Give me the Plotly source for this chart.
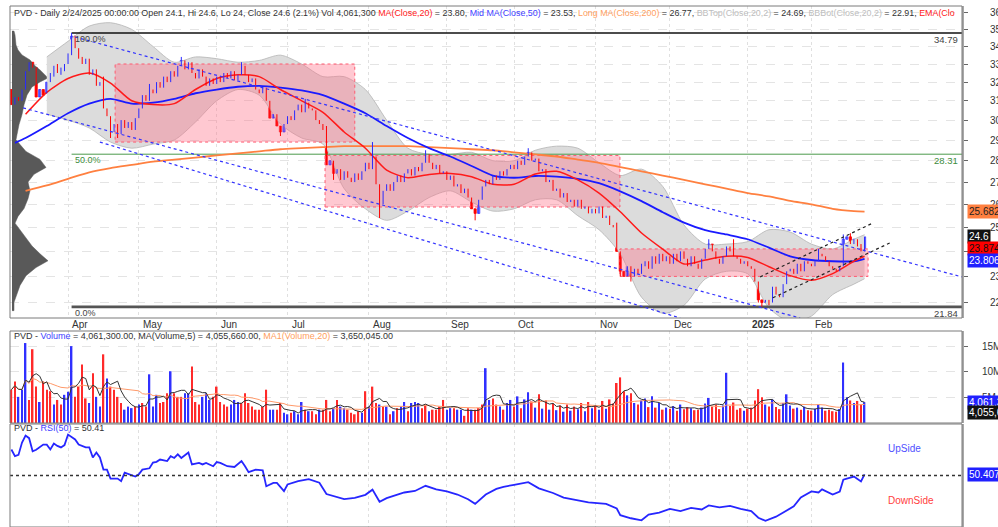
import math
import pandas as pd
import plotly.graph_objects as go

# ---------------- data ----------------
month_names = ["Apr", "May", "Jun", "Jul", "Aug", "Sep", "Oct", "Nov", "Dec", "2025", "Feb"]
month_start_idx = [16, 36, 58, 78, 101, 123, 142, 165, 186, 208, 226]

opens = [
    31.6, 30.8, 31.2, 31.0, 31.6, 32.6, 33.1, 32.8, 31.2, 31.6,
    31.4, 32.0, 32.3, 33.0, 32.4, 32.6, 33.0, 33.5, 34.6, 33.9,
    33.4, 33.0, 33.3, 32.4, 32.7, 31.8, 32.0, 30.6, 30.2, 29.4,
    29.8, 29.3, 30.0, 29.6, 29.9, 29.5, 30.1, 30.6, 31.3, 31.0,
    31.6, 31.4, 32.0, 31.7, 32.3, 32.0, 32.6, 32.3, 32.9, 33.2,
    32.7, 33.1, 32.5, 32.2, 32.7, 32.3, 31.8, 32.2, 31.9, 32.3,
    32.0, 32.5, 32.2, 32.6, 32.1, 32.4, 32.9, 32.4, 32.0, 32.2,
    31.6, 31.4, 31.7, 31.0, 30.1, 30.3, 29.7, 29.4, 29.8, 30.2,
    30.0, 30.5, 30.8, 30.4, 30.9, 30.6, 30.5, 30.0, 29.8, 29.5,
    27.8, 28.0, 27.4, 27.6, 27.1, 27.5, 27.2, 27.0, 27.4, 27.1,
    27.5, 27.9, 27.6, 28.2, 26.9, 26.0, 26.6, 26.9, 26.6, 27.0,
    27.3, 27.0, 27.4, 27.6, 27.3, 27.7, 27.5, 27.9, 28.3, 27.9,
    27.6, 27.8, 27.4, 27.5, 27.1, 27.3, 26.8, 26.9, 26.5, 26.7,
    26.3, 25.8, 25.6, 26.2, 26.8, 27.1, 26.9, 27.3, 27.1, 27.5,
    27.3, 27.6, 27.8, 27.6, 28.0, 27.8, 28.2, 28.4, 28.0, 28.1,
    27.5, 27.6, 27.0, 27.1, 26.6, 26.7, 26.3, 26.5, 26.1, 26.2,
    25.9, 26.2, 25.8, 25.9, 25.6, 25.8, 25.6, 25.9, 25.4, 25.5,
    25.1, 25.0, 24.0, 23.2, 23.0, 23.4, 23.0, 23.3, 23.1, 23.4,
    23.6, 23.3, 23.8, 23.5, 23.9, 23.6, 23.8, 23.5, 23.9, 23.6,
    24.0, 23.7, 23.4, 23.8, 23.5, 23.3, 23.7, 24.1, 24.3, 24.0,
    23.7, 23.5, 23.8, 24.2, 24.0, 23.8, 23.7, 23.5, 23.6, 23.4,
    23.3, 22.8, 22.1, 22.0, 22.1, 22.0, 22.6, 22.3, 22.2, 22.7,
    23.2, 23.3, 23.1, 23.5, 23.2, 23.6, 23.5, 23.4, 23.6, 23.9,
    23.8, 23.6, 23.4, 23.3, 23.2, 23.4, 24.5, 24.6, 24.3, 24.5,
    24.3, 24.1]

closes = [
    30.8, 31.2, 31.0, 31.6, 32.6, 33.1, 32.8, 31.2, 31.6, 31.3,
    32.0, 32.5, 32.9, 32.5, 32.8, 33.0, 33.6, 34.6, 33.9, 33.3,
    33.0, 33.3, 32.4, 32.7, 31.8, 32.0, 30.6, 30.2, 29.4, 29.8,
    29.3, 30.0, 29.6, 29.9, 29.5, 30.1, 30.6, 31.3, 31.0, 31.6,
    31.4, 32.0, 31.7, 32.3, 32.0, 32.6, 32.3, 32.9, 33.2, 32.7,
    33.1, 32.5, 32.2, 32.7, 32.3, 31.8, 32.2, 31.9, 32.3, 32.0,
    32.5, 32.2, 32.6, 32.1, 32.4, 32.9, 32.4, 32.0, 32.2, 31.6,
    31.4, 31.7, 31.0, 30.1, 30.3, 29.7, 29.4, 29.8, 30.2, 30.0,
    30.5, 30.8, 30.4, 30.9, 30.6, 30.5, 30.0, 29.8, 29.5, 27.8,
    28.0, 27.4, 27.6, 27.1, 27.5, 27.2, 27.0, 27.4, 27.1, 27.5,
    27.9, 27.6, 28.2, 26.9, 26.0, 26.6, 26.9, 26.6, 27.0, 27.3,
    27.0, 27.4, 27.6, 27.3, 27.7, 27.5, 27.9, 28.3, 27.9, 27.6,
    27.8, 27.4, 27.5, 27.1, 27.3, 26.8, 26.9, 26.5, 26.7, 26.3,
    25.8, 25.6, 26.2, 26.8, 27.1, 26.9, 27.3, 27.1, 27.5, 27.3,
    27.6, 27.8, 27.6, 28.0, 27.8, 28.2, 28.4, 28.0, 28.1, 27.5,
    27.6, 27.0, 27.1, 26.6, 26.7, 26.3, 26.5, 26.1, 26.2, 25.9,
    26.2, 25.8, 25.9, 25.6, 25.8, 25.6, 25.9, 25.4, 25.5, 25.1,
    25.0, 24.0, 23.2, 23.0, 23.4, 23.0, 23.3, 23.1, 23.5, 23.6,
    23.3, 23.8, 23.5, 23.9, 23.6, 23.8, 23.5, 23.9, 23.6, 24.0,
    23.7, 23.4, 23.8, 23.5, 23.3, 23.7, 24.1, 24.3, 24.0, 23.7,
    23.5, 23.8, 24.2, 24.0, 23.8, 23.7, 23.5, 23.6, 23.4, 23.3,
    22.8, 22.1, 22.0, 22.1, 22.0, 22.6, 22.3, 22.2, 22.7, 23.2,
    23.3, 23.1, 23.5, 23.2, 23.6, 23.5, 23.4, 23.6, 23.9, 23.8,
    23.6, 23.4, 23.3, 23.2, 23.4, 24.5, 24.6, 24.3, 24.5, 24.2,
    24.1, 24.6]

wick_highs = [(17, 34.79), (26, 32.3), (39, 31.9), (48, 33.4), (65, 33.1), (83, 31.1),
              (89, 29.7), (102, 28.9), (117, 28.5), (146, 28.6), (171, 25.2), (197, 24.5),
              (204, 24.5), (228, 24.1), (235, 24.7), (237, 24.75), (241, 24.6)]
wick_lows = [(28, 29.1), (30, 29.1), (76, 29.2), (91, 27.1), (104, 25.4), (131, 25.3),
             (172, 23.0), (175, 22.8), (211, 22.0), (212, 21.84), (214, 21.9), (240, 24.0), (241, 24.0)]

volume_m = [
    6.5, 8.1, 5.1, 6.5, 15.6, 4.5, 14.4, 7.1, 4.1, 8.1,
    6.5, 6.2, 3.6, 4.5, 3.6, 5.5, 6.1, 15.0, 5.1, 7.1,
    11.4, 4.8, 3.9, 9.7, 5.1, 3.2, 13.4, 8.7, 7.1, 6.5,
    5.1, 3.9, 2.6, 3.2, 2.9, 3.2, 3.6, 3.9, 3.2, 9.5,
    3.2, 5.5, 3.9, 4.1, 5.8, 10.1, 5.8, 5.1, 5.1, 5.8,
    5.8, 11.0, 4.1, 3.6, 5.1, 5.8, 4.5, 5.1, 7.1, 4.1,
    3.6, 3.2, 3.6, 4.5, 4.1, 3.9, 5.8, 3.9, 3.2, 2.6,
    2.6, 3.2, 6.5, 2.6, 2.6, 2.6, 3.9, 2.0, 1.7, 2.0,
    2.3, 1.7, 4.1, 2.6, 2.3, 2.3, 1.7, 2.6, 2.6, 4.5,
    2.3, 2.9, 4.5, 3.2, 2.9, 2.6, 2.0, 1.7, 2.3, 2.0,
    6.2, 3.2, 7.1, 3.9, 3.6, 3.2, 3.2, 1.7, 2.3, 2.9,
    3.2, 4.1, 2.3, 3.9, 4.1, 3.9, 2.9, 3.6, 2.3, 2.6,
    2.6, 3.2, 4.5, 2.6, 2.9, 2.9, 2.6, 2.6, 1.4, 2.9,
    2.6, 2.6, 2.9, 3.6, 10.7, 4.5, 4.8, 3.6, 3.2, 2.6,
    3.9, 4.5, 3.2, 5.2, 2.9, 4.6, 6.0, 4.2, 3.0, 5.6,
    2.8, 4.4, 2.6, 3.8, 2.5, 3.4, 2.2, 3.6, 2.4, 3.2,
    2.7, 3.9, 2.3, 4.1, 2.9, 3.4, 2.6, 4.3, 2.8, 4.6,
    3.8, 7.8, 8.9, 6.2, 5.4, 5.8, 3.9, 3.6, 4.4, 4.8,
    3.1, 5.2, 3.0, 3.9, 2.6, 3.0, 2.8, 3.3, 2.4, 3.6,
    2.7, 3.1, 2.9, 2.5, 2.6, 3.0, 3.8, 4.9, 3.2, 3.6,
    2.7, 3.4, 9.8, 3.3, 4.0, 2.6, 2.9, 2.4, 2.8, 3.0,
    4.4, 6.6, 5.0, 3.6, 3.2, 4.6, 3.1, 2.7, 3.9, 5.6,
    3.4, 2.8, 3.0, 2.6, 3.2, 2.5, 2.4, 2.8, 3.6, 3.0,
    2.4, 2.6, 2.3, 2.2, 2.7, 11.8, 5.0, 4.4, 3.9, 4.3,
    3.6, 4.0613]
volume_dir = ("RRBBBRRRBR" "RRBRRBBBRR" "RRBRBBRBRR" "RRBBBRBRRB" "BBRRRBRRRB"
              "BRRRBBBRRR" "RRBBBRRRRR" "RRRBBRRBBR" "BBBRBRRBRR" "RBRBBRRRRB"
              "RBRRBRBRBR" "BBRBBBRRBR" "RRRBBRBBRR" "BRRRBBRRBR" "BBRBRBBRBR"
              "BRBRBRBRBR" "BRBRBRBRBR" "RRRRBRBRBB" "RBRBRBRBRB" "RRBRRBBBRR"
              "RBBRRRRBRR" "RRRBRBRRBB" "BRBRBRRBBB" "RRRRBBBRBR" "RB")

sample_idx = [1, 4, 10, 16, 22, 28, 34, 40, 46, 52, 58, 64, 70, 76, 82, 88, 94, 100, 106, 112, 118,
              124, 130, 136, 142, 148, 154, 160, 166, 172, 178, 184, 190, 196, 202, 208, 214, 220,
              226, 232, 238, 241]
ma20 = [None, 30.3, 31.45, 32.2, 32.5, 31.95, 31.0, 30.8, 30.85, 31.6, 32.2, 32.4, 32.3, 31.6, 31.0,
        30.4, 29.4, 28.6, 27.55, 27.2, 27.35, 27.4, 27.25, 26.9, 26.9, 27.37, 27.5, 27.1, 26.5,
        25.67, 24.76, 24.09, 23.49, 23.65, 23.8, 23.75, 23.38, 23.03, 22.85, 23.11, 23.6, 23.8]
ma50 = [28.86, 29.1, 29.7, 30.35, 30.85, 31.1, 30.85, 30.9, 31.1, 31.4, 31.6, 31.75, 31.8, 31.7,
        31.55, 31.3, 30.85, 30.35, 29.7, 29.1, 28.6, 28.2, 27.75, 27.3, 27.2, 27.28, 27.25, 27.15,
        26.95, 26.58, 26.14, 25.65, 25.2, 24.88, 24.7, 24.5, 24.15, 23.8, 23.65, 23.6, 23.6, 23.7]
ma200 = [None, 26.6, 26.85, 27.15, 27.45, 27.65, 27.8, 27.95, 28.05, 28.15, 28.25, 28.35, 28.45,
         28.55, 28.6, 28.65, 28.7, 28.7, 28.7, 28.7, 28.65, 28.6, 28.55, 28.5, 28.4, 28.3, 28.2,
         28.05, 27.9, 27.7, 27.5, 27.3, 27.1, 26.9, 26.7, 26.5, 26.35, 26.15, 26.0, 25.8, 25.7, 25.68]
bb_top = [None, None, 33.4, 34.3, 35.2, 35.4, 35.0, 34.0, 33.1, 33.4, 33.3, 33.1, 33.2, 33.5, 33.0,
          32.3, 32.3, 31.6, 30.0, 28.6, 28.3, 28.3, 28.4, 28.0, 28.0, 28.5, 28.7, 28.6, 27.9, 27.3,
          27.6, 26.8, 25.1, 24.3, 24.3, 24.4, 24.9, 24.8, 24.3, 24.1, 24.5, 24.69]
bb_bot = [None, None, 30.3, 30.0, 29.6, 28.9, 28.6, 28.8, 29.0, 29.9, 31.0, 31.6, 31.3, 29.8, 29.1,
          28.8, 26.7, 25.8, 25.3, 25.7, 26.3, 26.6, 26.1, 25.7, 25.8, 26.2, 26.2, 25.5, 24.9, 23.9,
          22.2, 21.6, 21.9, 22.9, 23.2, 23.1, 21.8, 21.3, 21.5, 22.3, 22.7, 22.91]

rsi_points = [(0, 60.1), (1, 57.5), (2, 58.0), (3, 62.8), (4, 65.5), (5, 64.5), (6, 59.4), (7, 60.0),
              (9, 62.0), (10, 62.0), (11, 60.1), (12, 62.4), (13, 61.5), (14, 60.9), (15, 61.8),
              (16, 65.9), (18, 64.0), (19, 62.0), (21, 60.9), (22, 60.9), (23, 57.0), (24, 58.9),
              (25, 57.0), (26, 52.3), (27, 52.3), (28, 48.8), (30, 48.8), (31, 47.8), (32, 51.1),
              (34, 50.0), (35, 49.6), (36, 50.5), (37, 52.3), (39, 52.8), (40, 55.0), (41, 55.3),
              (42, 56.2), (44, 55.6), (45, 57.5), (46, 56.8), (47, 58.2), (48, 56.8), (50, 58.9),
              (51, 54.3), (53, 54.9), (54, 54.3), (55, 54.9), (57, 53.6), (58, 55.2), (59, 54.9),
              (61, 53.6), (63, 53.3), (65, 55.6), (66, 53.6), (67, 51.3), (69, 52.3), (71, 52.0),
              (72, 45.8), (74, 47.1), (75, 47.1), (77, 43.9), (78, 46.5), (81, 47.8), (84, 48.6),
              (87, 47.2), (89, 42.8), (91, 42.0), (94, 40.8), (97, 41.3), (100, 42.5), (102, 44.5),
              (104, 39.8), (106, 41.2), (108, 42.2), (111, 43.4), (114, 44.0), (117, 46.0),
              (120, 44.6), (123, 43.8), (126, 42.6), (129, 40.8), (131, 39.0), (134, 42.6),
              (137, 44.8), (139, 45.6), (142, 46.4), (146, 47.4), (149, 45.0), (153, 43.2),
              (156, 41.4), (160, 40.4), (163, 39.6), (168, 39.0), (171, 37.2), (172, 34.6),
              (175, 33.4), (178, 32.6), (180, 34.8), (183, 35.6), (186, 37.0), (189, 36.2),
              (192, 37.4), (195, 36.8), (197, 38.4), (200, 37.6), (203, 38.2), (206, 37.0),
              (209, 36.2), (211, 33.6), (213, 32.4), (216, 34.0), (219, 36.4), (221, 38.0),
              (223, 41.5), (226, 43.8), (228, 43.4), (229, 44.6), (232, 42.6), (234, 43.8),
              (235, 48.4), (238, 49.6), (240, 47.7), (241, 50.41)]

profile_price = [34.9, 34.67, 34.09, 33.80, 33.51, 33.23, 32.95, 32.67, 32.40, 32.23,
                 32.01, 31.74, 31.31, 30.79, 30.28, 29.77, 29.27, 29.02, 28.78, 28.44,
                 28.06, 27.68, 27.36, 27.0, 26.6, 26.25, 25.81, 25.47, 25.18, 24.88,
                 24.55, 24.22, 23.9, 23.62, 23.35, 23.03, 22.65, 22.27, 22.01, 21.7]
profile_vol = [2, 3, 4, 6, 10, 18, 22, 28, 33, 36, 28, 20, 15, 12, 10, 7, 5, 4, 8, 14,
               28, 34, 22, 16, 18, 16, 12, 6, 3, 8, 14, 20, 28, 36, 24, 14, 8, 4, 2, 2]

fib_levels = [34.79, 28.31, 21.84]
fib_pct = ["100.0%", "50.0%", "0.0%"]
fib_start_idx = 17

box_x0 = [29.3, 88.6, 171.9]
box_x1 = [97.0, 171.9, 242.0]
box_top = [33.0, 28.25, 24.1]
box_bot = [28.9, 25.88, 23.0]

channel_lines = [((18.0, 34.55), (268.5, 22.98)),
                 ((3.3, 30.63), (222.8, 21.43)),
                 ((25.0, 28.9), (188.9, 21.43))]
feb_lines = [((211.5, 22.98), (243.4, 25.19)),
             ((215.1, 22.18), (248.8, 24.39))]

price_ticks = list(range(22, 37))
vol_ticks = [5, 10, 15]

# ---------------- layout helpers ----------------
W, H = 998, 527
def py(p):
    return 1 - p / H
def pxx(p):
    return p / W

XL, XR = 10, 962
X_RANGE = [-0.395, 268.53]
PX_PER_BAR = 3.54
PRICE_RANGE = [math.log10(21.43), math.log10(36.42)]
UP_LINE, UP_FILL, DN = "#2a2aff", "#d4d4ff", "#ff0000"

n = len(closes)
idx = list(range(n))
highs = [max(o, c) for o, c in zip(opens, closes)]
lows = [min(o, c) for o, c in zip(opens, closes)]
for i, v in wick_highs:
    highs[i] = max(highs[i], v)
for i, v in wick_lows:
    lows[i] = min(lows[i], v)
is_up = [c >= o for o, c in zip(opens, closes)]

fig = go.Figure()

# volume profile
x_base = 0.17
prof_x = [x_base] + [x_base + v / PX_PER_BAR for v in profile_vol] + [x_base]
prof_y = [profile_price[0]] + profile_price + [profile_price[-1]]
fig.add_trace(go.Scatter(x=prof_x, y=prof_y, fill="toself", fillcolor="#595959",
                         mode="lines", line=dict(width=0.5, color="#595959"), hoverinfo="skip"))

# Bollinger band
bx = [s for s, t in zip(sample_idx, bb_top) if t is not None]
bt = [t for t in bb_top if t is not None]
bbm = [b for b in bb_bot if b is not None]
fig.add_trace(go.Scatter(x=bx, y=bbm, mode="lines",
                         line=dict(color="#b4b4b4", width=0.8, shape="spline", smoothing=0.8)))
fig.add_trace(go.Scatter(x=bx, y=bt, mode="lines", fill="tonexty", fillcolor="#dcdcdc",
                         line=dict(color="#b4b4b4", width=0.8, shape="spline", smoothing=0.8)))

# pink boxes
for x0, x1, t, b in zip(box_x0, box_x1, box_top, box_bot):
    fig.add_trace(go.Scatter(x=[x0, x1, x1, x0, x0], y=[b, b, t, t, b], mode="lines",
                             fill="toself", fillcolor="rgba(255,110,135,0.38)",
                             line=dict(color="#ff5a70", width=1, dash="dot")))

# fib lines
fib_styles = [("#111111", 1.6), ("#4c9a4c", 1.0), ("#555555", 2.6)]
for lvl, (col, wd) in zip(fib_levels, fib_styles):
    fig.add_trace(go.Scatter(x=[fib_start_idx, X_RANGE[1]], y=[lvl, lvl], mode="lines",
                             line=dict(color=col, width=wd)))

# moving averages
def line_tr(vals, color, width):
    xs = [s for s, v in zip(sample_idx, vals) if v is not None]
    ys = [v for v in vals if v is not None]
    return go.Scatter(x=xs, y=ys, mode="lines",
                      line=dict(color=color, width=width, shape="spline", smoothing=0.7))

fig.add_trace(line_tr(ma200, "#ff8040", 1.8))
fig.add_trace(line_tr(ma50, "#1a1aff", 1.8))
fig.add_trace(line_tr(ma20, "#ff1a1a", 1.5))

# candles: wicks then bodies
for up, col in [(True, UP_LINE), (False, DN)]:
    wx, wy = [], []
    for i in idx:
        if is_up[i] == up:
            wx += [i, i, None]
            wy += [lows[i], highs[i], None]
    fig.add_trace(go.Scatter(x=wx, y=wy, mode="lines", line=dict(color=col, width=1),
                             hoverinfo="skip"))
body_base = [min(o, c) for o, c in zip(opens, closes)]
body_len = [abs(c - o) for o, c in zip(opens, closes)]
fig.add_trace(go.Bar(x=idx, y=body_len, base=body_base, width=0.62,
                     marker=dict(color=[UP_FILL if u else DN for u in is_up],
                                 line=dict(color=[UP_LINE if u else DN for u in is_up], width=0.8)),
                     hoverinfo="skip"))

# channel lines
for (x0, y0), (x1, y1) in channel_lines:
    fig.add_trace(go.Scatter(x=[x0, x1], y=[y0, y1], mode="lines",
                             line=dict(color="#3333ff", width=1.2, dash="dot")))
for (x0, y0), (x1, y1) in feb_lines:
    fig.add_trace(go.Scatter(x=[x0, x1], y=[y0, y1], mode="lines",
                             line=dict(color="#222222", width=1.2, dash="dot")))

# volume
vcol = ["#3030ff" if d == "B" else "#ff2a2a" for d in volume_dir]
fig.add_trace(go.Bar(x=idx, y=volume_m, marker=dict(color=vcol, line=dict(width=0)),
                     width=0.45, xaxis="x2", yaxis="y2"))
vs = pd.Series(volume_m)
fig.add_trace(go.Scatter(x=idx, y=vs.rolling(20, min_periods=1).mean(), mode="lines",
                         line=dict(color="#ff9a6a", width=1), xaxis="x2", yaxis="y2"))
fig.add_trace(go.Scatter(x=idx, y=vs.rolling(5, min_periods=1).mean(), mode="lines",
                         line=dict(color="#333333", width=1), xaxis="x2", yaxis="y2"))

# RSI
fig.add_trace(go.Scatter(x=[p[0] for p in rsi_points], y=[p[1] for p in rsi_points], mode="lines",
                         line=dict(color="#2626ff", width=1.8), xaxis="x3", yaxis="y3"))
fig.add_trace(go.Scatter(x=X_RANGE, y=[50, 50], mode="lines",
                         line=dict(color="#333333", width=1.5, dash="dot"), xaxis="x3", yaxis="y3"))

# ---------------- axes ----------------
xdom = [pxx(XL), pxx(XR)]
xcommon = dict(domain=xdom, range=X_RANGE, tickvals=month_start_idx, showticklabels=False,
               showgrid=True, gridcolor="#e0e0e0", griddash="dot", gridwidth=1,
               zeroline=False, ticks="", showline=False, fixedrange=True)
ybase = dict(side="right", showline=True, linecolor="#a8a8a8", linewidth=2, zeroline=False,
             tickfont=dict(size=10, color="#333333"), automargin=False, fixedrange=True)

fig.update_layout(
    width=W, height=H, margin=dict(l=0, r=0, t=0, b=0),
    paper_bgcolor="white", plot_bgcolor="white", showlegend=False, barmode="overlay",
    font=dict(family="Liberation Sans, Arial, sans-serif", size=10, color="#333333"),
    xaxis=dict(anchor="y", rangeslider=dict(visible=False), **xcommon),
    xaxis2=dict(anchor="y2", matches="x", **xcommon),
    xaxis3=dict(anchor="y3", matches="x", **xcommon),
    yaxis=dict(domain=[py(318), py(6)], type="log", range=PRICE_RANGE,
               tickvals=price_ticks, ticktext=[str(t) for t in price_ticks],
               ticks="outside", ticklen=4, tickcolor="#666666",
               showgrid=True, gridcolor="#e4e4e4", griddash="dash", ticklabelstandoff=20, **ybase),
    yaxis2=dict(domain=[py(423), py(331)], range=[0, 17.95], tickvals=vol_ticks,
                ticktext=[f"{t}M" for t in vol_ticks], ticks="outside", ticklen=4,
                tickcolor="#666666", showgrid=True, gridcolor="#e4e4e4",
                griddash="dash", ticklabelstandoff=12, **ybase),
    yaxis3=dict(domain=[0, py(424)], range=[30, 70], showticklabels=False, showgrid=False,
                ticks="", **ybase),
)

# frames
shapes = []
for top, bot in [(6, 318), (331, 423), (424, 527)]:
    shapes.append(dict(type="rect", xref="paper", yref="paper", x0=pxx(XL), x1=pxx(XR),
                       y0=py(bot), y1=py(top), line=dict(color="#7a7a7a", width=1)))
fig.update_layout(shapes=shapes)

# ---------------- annotations ----------------
ann = []
hdr = ("PVD - Daily 2/24/2025 00:00:00 Open 24.1, Hi 24.6, Lo 24, Close 24.6 (2.1%) Vol 4,061,300 "
       "<span style='color:#ff2020'>MA(Close,20)</span> = 23.80, "
       "<span style='color:#4040ff'>Mid MA(Close,50)</span> = 23.53, "
       "<span style='color:#ffa060'>Long MA(Close,200)</span> = 26.77, "
       "<span style='color:#bdbdbd'>BBTop(Close,20,2)</span> = 24.69, "
       "<span style='color:#bdbdbd'>BBBot(Close,20,2)</span> = 22.91, "
       "<span style='color:#ff2020'>EMA(Clo</span>")
ann.append(dict(text=hdr, xref="paper", yref="paper", x=pxx(12), y=py(13), xanchor="left",
                yanchor="middle", showarrow=False, font=dict(size=8.9, color="#333333")))
ann.append(dict(text=("PVD - <span style='color:#4040ff'>Volume</span> = 4,061,300.00, "
                      "MA(Volume,5) = 4,055,660.00, "
                      "<span style='color:#ffa060'>MA1(Volume,20)</span> = 3,650,045.00"),
                xref="paper", yref="paper", x=pxx(12), y=py(336), xanchor="left", yanchor="middle",
                showarrow=False, font=dict(size=9, color="#333333")))
ann.append(dict(text="PVD - <span style='color:#4040ff'>RSI(50)</span> = 50.41",
                xref="paper", yref="paper", x=pxx(12), y=py(428), xanchor="left", yanchor="middle",
                showarrow=False, font=dict(size=9, color="#333333")))

for name, mi in zip(month_names, month_start_idx):
    ann.append(dict(text=f"<b>{name}</b>" if name == "2025" else name, xref="x", yref="paper",
                    x=mi, y=py(324), xanchor="left", yanchor="middle", xshift=2, showarrow=False,
                    font=dict(size=10, color="#333333")))

fib_txt_col = ["#444444", "#3c8c3c", "#444444"]
for lvl, pct, col in zip(fib_levels, fib_pct, fib_txt_col):
    ann.append(dict(text=pct, xref="x", yref="y", x=fib_start_idx, y=math.log10(lvl),
                    xanchor="left", yanchor="top", xshift=1, yshift=1, showarrow=False,
                    font=dict(size=9, color=col)))
    ann.append(dict(text=f"{lvl:.2f}", xref="paper", yref="y", x=pxx(960), y=math.log10(lvl),
                    xanchor="right", yanchor="top", yshift=1, showarrow=False,
                    font=dict(size=9.5, color=col)))

badges = [("25.682", 25.682, 0, "#ff8040", "#222222"),
          ("24.6", 24.6, 0, "#111111", "#ffffff"),
          ("23.874", 23.874, 6, "#ff0000", "#111111"),
          ("23.806", 23.806, -4, "#2020ff", "#ffffff")]
for txt, val, ys, bg, fc in badges:
    ann.append(dict(text=txt, xref="paper", yref="y", x=pxx(967), y=math.log10(val), yshift=ys,
                    xanchor="left", yanchor="middle", showarrow=False, bgcolor=bg, borderpad=1,
                    font=dict(size=10, color=fc)))
for txt, val, ys, bg in [("4,061,300", 4.0613, 0, "#2020ff"), ("4,055,660", 4.0557, -10, "#111111")]:
    ann.append(dict(text=txt, xref="paper", yref="y2", x=pxx(967), y=val, yshift=ys,
                    xanchor="left", yanchor="middle", showarrow=False, bgcolor=bg, borderpad=1,
                    font=dict(size=10, color="#ffffff")))
ann.append(dict(text="50.407", xref="paper", yref="y3", x=pxx(967), y=50.407, xanchor="left",
                yanchor="middle", showarrow=False, bgcolor="#2020ff", borderpad=1,
                font=dict(size=10, color="#ffffff")))
ann.append(dict(text="UpSide", xref="paper", yref="paper", x=pxx(886), y=py(448), xanchor="left",
                yanchor="middle", showarrow=False, font=dict(size=10, color="#5050ff")))
ann.append(dict(text="DownSide", xref="paper", yref="paper", x=pxx(886), y=py(500), xanchor="left",
                yanchor="middle", showarrow=False, font=dict(size=10, color="#ff4040")))
fig.update_layout(annotations=ann)

fig.write_html("out.html", config={"displayModeBar": False},
               post_script="document.body.style.margin='0px';document.body.style.overflow='hidden';")
